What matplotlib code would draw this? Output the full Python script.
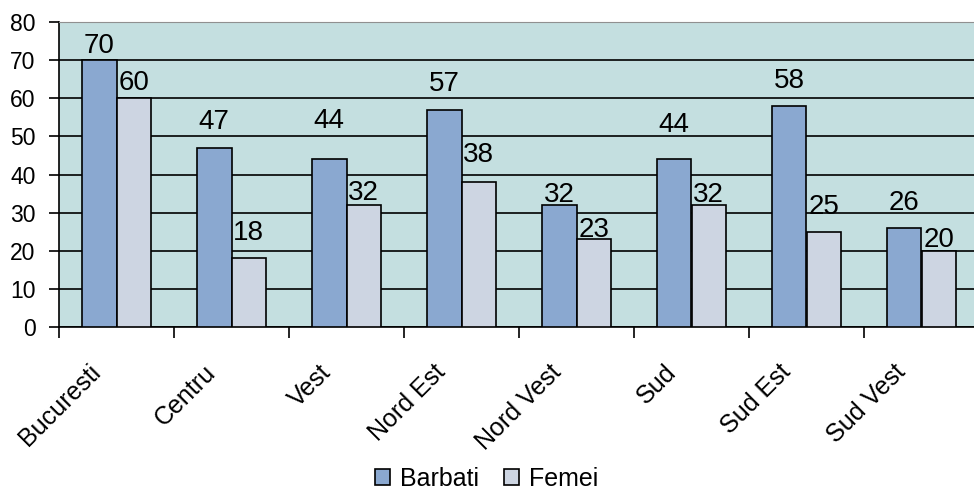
import numpy as np
import matplotlib.pyplot as plt

regions = ["Bucuresti", "Centru", "Vest", "Nord Est", "Nord Vest", "Sud", "Sud Est", "Sud Vest"]
barbati = [70, 47, 44, 57, 32, 44, 58, 26]
femei = [60, 18, 32, 38, 23, 32, 25, 20]
y_ticks = [0, 10, 20, 30, 40, 50, 60, 70, 80]

# gap (pixels) between bar top and label baseline, as placed in the original
gap_barbati = [7, 19, 31, 19, 3, 27, 18, 18]
gap_femei = [8, 18, 5, 20, 2, 3, 18, 4]

plt.rcParams["font.family"] = ["Liberation Sans", "DejaVu Sans"]

W, H = 974, 496
fig = plt.figure(figsize=(W / 100, H / 100), dpi=100)
left, right, top, bottom = 59, 979, 22, 327
ax = fig.add_axes([left / W, 1 - bottom / H, (right - left) / W, (bottom - top) / H])
ax.set_facecolor("#c4dfe0")

x = np.arange(len(regions))
w = 0.3
b1 = ax.bar(x - w / 2, barbati, w, color="#8aa8d0", edgecolor="black", linewidth=1.2,
            label="Barbati", zorder=3)
b2 = ax.bar(x + w / 2, femei, w, color="#cdd5e2", edgecolor="black", linewidth=1.2,
            label="Femei", zorder=3)
for bars, vals, gaps in ((b1, barbati, gap_barbati), (b2, femei, gap_femei)):
    for r, v, g in zip(bars, vals, gaps):
        ax.annotate(str(v), (r.get_x() + r.get_width() / 2, v),
                    xytext=(0, g * 0.72), textcoords="offset points",
                    ha="center", va="baseline", fontsize=20, zorder=4)

ax.set_xlim(-0.5, len(regions) - 0.5)
ax.set_ylim(0, 80)
ax.set_yticks(y_ticks)
ax.yaxis.grid(True, color="black", linewidth=1.2, zorder=0)
ax.set_axisbelow(True)

ax.set_xticks(np.arange(len(regions) + 1) - 0.5)
ax.set_xticklabels([])
ax.tick_params(axis="x", length=8, width=1.2, direction="out")
ax.tick_params(axis="y", length=7, width=1.2, labelsize=16.5, pad=10)
for i, name in enumerate(regions):
    ax.annotate(name, (i, 0), xycoords=ax.get_xaxis_transform(),
                xytext=(-14, -30), textcoords="offset points",
                rotation=45, ha="right", va="center", rotation_mode="anchor",
                fontsize=18)

for s in ("left", "bottom"):
    ax.spines[s].set_linewidth(1.2)
ax.spines["top"].set_color("#909090")
ax.spines["right"].set_visible(False)

fig.legend(loc="lower center", bbox_to_anchor=(0.5, -0.035), ncol=2, frameon=False,
           fontsize=18, handlelength=0.6, handleheight=0.6, handletextpad=0.4,
           columnspacing=1.0)

fig.savefig("out.png", dpi=100)
